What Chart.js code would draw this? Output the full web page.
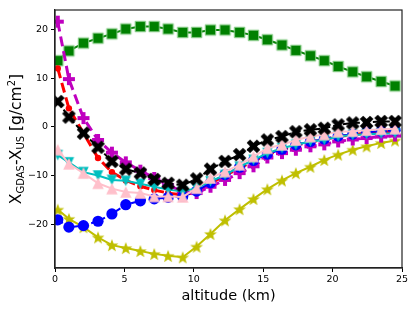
<!DOCTYPE html>
<html>
<head>
<meta charset="utf-8">
<script src="https://cdn.jsdelivr.net/npm/chart.js@4.4.0/dist/chart.umd.min.js"></script>
<style>
  html, body { margin: 0; padding: 0; background: #fff; }
  canvas { display: block; }
</style>
</head>
<body>
<canvas id="chart" width="415" height="310"></canvas>
<script>
// altitude of each sample (km), shared by all series
const altitude = [0.2, 1.0, 2.05, 3.1, 4.1, 5.1, 6.15, 7.15, 8.15, 9.2, 10.2, 11.2, 12.25,
  13.3, 14.3, 15.3, 16.35, 17.35, 18.4, 19.4, 20.4, 21.45, 22.45, 23.5, 24.5];

// X_GDAS - X_US in g/cm^2, one list per curve
const greenSquares = [13.6, 15.6, 17.2, 18.2, 19.1, 20.1, 20.6, 20.6, 20.1, 19.4, 19.4, 19.9, 19.9,
  19.4, 18.8, 17.9, 16.8, 15.7, 14.6, 13.6, 12.4, 11.3, 10.3, 9.3, 8.4];
const yellowStars = [-17.0, -18.9, -20.6, -22.7, -24.3, -24.9, -25.5, -26.1, -26.5, -26.8, -24.6, -22.0, -19.2,
  -16.9, -14.8, -12.8, -11.0, -9.5, -8.2, -6.8, -5.7, -4.7, -4.0, -3.3, -2.8];
const blueCircles = [-19.1, -20.6, -20.3, -19.4, -17.9, -16.0, -15.2, -14.8, -14.5, -14.3, -13.2, -11.5, -9.8,
  -8.3, -6.9, -5.6, -4.6, -3.7, -3.0, -2.5, -1.9, -1.5, -1.1, -0.9, -0.7];
const redDots = [12.0, 3.8, -1.3, -6.4, -9.3, -11.0, -12.2, -13.0, -13.6, -14.0, -13.4, -11.6, -10.0,
  -8.5, -7.0, -5.7, -4.7, -3.8, -3.1, -2.6, -2.0, -1.6, -1.3, -1.1, -0.9];
const magentaPlus = [21.6, 9.8, 1.8, -2.7, -5.3, -7.3, -9.0, -10.5, -12.0, -13.3, -13.6, -12.3, -10.9,
  -9.5, -8.1, -6.3, -5.4, -4.7, -4.0, -3.6, -3.0, -2.6, -2.3, -2.0, -1.8];
const cyanDown = [-5.8, -7.3, -9.3, -10.0, -10.9, -11.1, -11.7, -12.3, -12.9, -13.3, -12.6, -11.2, -9.9,
  -8.2, -6.8, -5.4, -4.4, -3.7, -3.0, -2.7, -2.0, -1.7, -1.5, -1.4, -1.3];
const pinkUp = [-4.7, -7.6, -9.5, -11.6, -12.7, -13.4, -13.6, -14.3, -14.3, -14.4, -12.6, -10.5, -9.2,
  -7.8, -6.1, -4.4, -3.7, -2.7, -2.0, -1.6, -1.0, -0.9, -0.7, -0.5, -0.4];
const blackX = [5.2, 2.0, -1.3, -4.2, -7.1, -8.7, -9.5, -10.8, -11.6, -12.0, -10.7, -8.7, -7.1,
  -5.7, -4.0, -2.7, -2.0, -1.0, -0.6, -0.3, 0.4, 0.8, 0.9, 1.1, 1.1];

const xTicks = [0, 5, 10, 15, 20, 25];
const yTicks = [-20, -10, 0, 10, 20];

const FONT = "'DejaVu Sans', sans-serif";

// build a small canvas to use as a point style (matplotlib-like filled markers)
function marker(shape, size, fill, edge, edgeWidth) {
  edgeWidth = edgeWidth || 0;
  const n = Math.ceil(size + edgeWidth * 2) + 2;
  const cv = document.createElement('canvas');
  cv.width = n; cv.height = n;
  const c = cv.getContext('2d');
  const m = n / 2, r = size / 2;
  c.beginPath();
  if (shape === 'square') {
    c.rect(m - r, m - r, size, size);
  } else if (shape === 'star') {
    for (let k = 0; k < 10; k++) {
      const rr = k % 2 ? r * 0.42 : r;
      const a = -Math.PI / 2 + k * Math.PI / 5;
      c.lineTo(m + rr * Math.cos(a), m + rr * Math.sin(a) + r * 0.1);
    }
    c.closePath();
  } else if (shape === 'triUp') {
    c.moveTo(m, m - r); c.lineTo(m + r, m + r); c.lineTo(m - r, m + r); c.closePath();
  } else if (shape === 'triDown') {
    c.moveTo(m, m + r); c.lineTo(m + r, m - r); c.lineTo(m - r, m - r); c.closePath();
  } else if (shape === 'plus' || shape === 'x') {
    const w = r / 3;
    const pts = [[-w, -r], [w, -r], [w, -w], [r, -w], [r, w], [w, w], [w, r], [-w, r], [-w, w], [-r, w], [-r, -w], [-w, -w]];
    const ang = shape === 'x' ? Math.PI / 4 : 0;
    for (const [px, py] of pts) {
      c.lineTo(m + px * Math.cos(ang) - py * Math.sin(ang), m + px * Math.sin(ang) + py * Math.cos(ang));
    }
    c.closePath();
  }
  c.fillStyle = fill;
  c.fill();
  if (edgeWidth) {
    c.lineWidth = edgeWidth;
    c.strokeStyle = edge;
    c.stroke();
  }
  return cv;
}

function pts(values) {
  return altitude.map((x, i) => ({ x: x, y: values[i] }));
}

// first dataset is drawn on top
const datasets = [
  { data: pts(blackX), borderColor: '#000', borderWidth: 2, borderDash: [7, 3],
    pointStyle: marker('x', 14.5, '#000'), pointRadius: 6 },
  { data: pts(pinkUp), borderColor: '#ffc0cb', borderWidth: 2,
    pointStyle: marker('triUp', 11.5, '#ffc0cb'), pointRadius: 6 },
  { data: pts(cyanDown), borderColor: '#00bfbf', borderWidth: 2,
    pointStyle: marker('triDown', 10.5, '#00bfbf'), pointRadius: 6 },
  { data: pts(blueCircles), borderColor: '#0000ff', borderWidth: 2, borderDash: [6, 3],
    pointStyle: 'circle', pointRadius: 5.6, pointBackgroundColor: '#0000ff', pointBorderWidth: 0 },
  { data: pts(magentaPlus), borderColor: '#bf00bf', borderWidth: 3, borderDash: [10, 5],
    pointStyle: marker('plus', 12, '#bf00bf'), pointRadius: 6 },
  { data: pts(redDots), borderColor: '#ff0000', borderWidth: 3, borderDash: [10, 5],
    pointStyle: 'circle', pointRadius: 3.2, pointBackgroundColor: '#ff0000', pointBorderWidth: 0 },
  { data: pts(yellowStars), borderColor: '#bfbf00', borderWidth: 2,
    pointStyle: marker('star', 13.5, '#bfbf00'), pointRadius: 6 },
  { data: pts(greenSquares), borderColor: '#008000', borderWidth: 2,
    pointStyle: marker('square', 10.5, '#008000', '#8fd08f', 1), pointRadius: 6 }
];

// frame around the plot area (top and right spines included)
const framePlugin = {
  id: 'frame',
  afterDatasetsDraw(chart) {
    const a = chart.chartArea, ctx = chart.ctx;
    ctx.save();
    ctx.strokeStyle = '#222';
    ctx.lineWidth = 1.2;
    ctx.strokeRect(a.left, a.top, a.right - a.left, a.bottom - a.top);
    ctx.restore();
  }
};

// y axis title with sub/superscripts
const yTitlePlugin = {
  id: 'yTitle',
  afterDraw(chart) {
    const ctx = chart.ctx, a = chart.chartArea;
    const big = '15.5px ' + FONT, small = '10px ' + FONT;
    const parts = [
      ['X', big, 0], ['GDAS', small, 2.5], ['-X', big, 0], ['US', small, 2.5],
      [' [g/cm', big, 0], ['2', small, -6.5], [']', big, 0]
    ];
    ctx.save();
    let total = 0;
    for (const p of parts) { ctx.font = p[1]; total += ctx.measureText(p[0]).width; }
    ctx.translate(21, (a.top + a.bottom) / 2);
    ctx.rotate(-Math.PI / 2);
    ctx.fillStyle = '#000';
    ctx.textBaseline = 'alphabetic';
    let x = -total / 2;
    for (const p of parts) {
      ctx.font = p[1];
      ctx.fillText(p[0], x, p[2]);
      x += ctx.measureText(p[0]).width;
    }
    ctx.restore();
  }
};

const minus = v => String(v).replace('-', '\u2212');

new Chart(document.getElementById('chart'), {
  type: 'line',
  data: { datasets: datasets },
  options: {
    responsive: false,
    animation: false,
    devicePixelRatio: 1,
    layout: { padding: { top: 10, right: 13, left: 0, bottom: 0 } },
    plugins: { legend: { display: false }, tooltip: { enabled: false } },
    elements: { line: { tension: 0, fill: false } },
    scales: {
      x: {
        type: 'linear', min: 0, max: 25,
        afterBuildTicks: s => { s.ticks = xTicks.map(v => ({ value: v })); },
        afterFit: s => { s.height = 42; },
        ticks: { color: '#000', font: { size: 9.5, family: FONT }, padding: 2, maxRotation: 0 },
        grid: { drawOnChartArea: false, drawTicks: true, tickLength: 4, color: '#000' },
        border: { display: true, color: '#222', width: 1.2 },
        title: { display: true, text: 'altitude (km)', color: '#000',
          font: { size: 14.5, family: FONT }, padding: { top: 0, bottom: 5 } }
      },
      y: {
        type: 'linear', min: -29, max: 24,
        afterBuildTicks: s => { s.ticks = yTicks.map(v => ({ value: v })); },
        afterFit: s => { s.width = 55; },
        ticks: { color: '#000', font: { size: 9.5, family: FONT }, padding: 3, callback: minus },
        grid: { drawOnChartArea: false, drawTicks: true, tickLength: 4, color: '#000' },
        border: { display: true, color: '#222', width: 1.2 }
      }
    }
  },
  plugins: [framePlugin, yTitlePlugin]
});
</script>
</body>
</html>
